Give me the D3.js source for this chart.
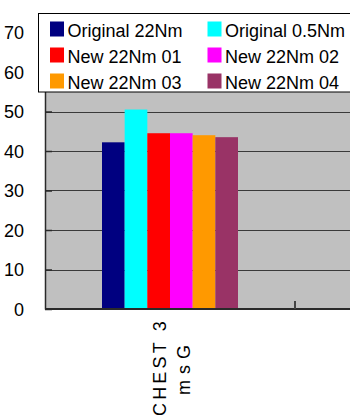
<!DOCTYPE html>
<html>
<head>
<meta charset="utf-8">
<script src="https://cdn.jsdelivr.net/npm/d3@7"></script>
<style>
  html, body { margin: 0; padding: 0; background: #fff; }
  svg { display: block; font-family: "Liberation Sans", Arial, sans-serif; }
</style>
</head>
<body>
<svg id="chart" width="350" height="418"></svg>
<script>
// Category shown on the x axis (two-line label)
const categories = ["CHEST 3|msG"];
// Series names and their values for the category
const seriesNames = ["Original 22Nm", "Original 0.5Nm", "New 22Nm 01", "New 22Nm 02", "New 22Nm 03", "New 22Nm 04"];
const seriesValues = [42.2, 50.5, 44.5, 44.5, 44.0, 43.5];
const seriesColors = ["#000080", "#00ffff", "#ff0000", "#ff00ff", "#ff9900", "#993366"];
// Y axis ticks
const yTicks = [0, 10, 20, 30, 40, 50, 60, 70];

const svg = d3.select("#chart");
const W = 350;

const plot = { left: 45, top: 32.5, bottom: 309, right: 600 };

const y = d3.scaleLinear().domain([0, 70]).range([plot.bottom, plot.top]);
const x = d3.scaleBand().domain(categories).range([plot.left, 295]).paddingInner(0).paddingOuter(0);
const xs = d3.scaleBand().domain(seriesNames)
  .range([x.bandwidth() * 0.228, x.bandwidth() * 0.772]).padding(0);

// Plot background
svg.append("rect")
  .attr("x", plot.left).attr("y", plot.top)
  .attr("width", plot.right - plot.left).attr("height", plot.bottom - plot.top)
  .attr("fill", "#c0c0c0");

// Horizontal gridlines
svg.append("g").selectAll("line").data(yTicks.filter(t => t > 0)).join("line")
  .attr("x1", plot.left).attr("x2", W)
  .attr("y1", d => Math.round(y(d)) + 0.5).attr("y2", d => Math.round(y(d)) + 0.5)
  .attr("stroke", "#3a3a3a").attr("stroke-width", 1);

// Bars
const g = svg.append("g");
categories.forEach(cat => {
  g.selectAll(null).data(seriesNames).join("rect")
    .attr("x", (d) => x(cat) + xs(d))
    .attr("width", xs.bandwidth())
    .attr("y", (d, i) => y(seriesValues[i]))
    .attr("height", (d, i) => y(0) - y(seriesValues[i]))
    .attr("fill", (d, i) => seriesColors[i]);
});

// Y axis with inward ticks
const yAxis = d3.axisLeft(y).tickValues(yTicks).tickSizeInner(-7).tickSizeOuter(0).tickPadding(21);
const ya = svg.append("g").attr("transform", `translate(${plot.left},0)`).call(yAxis);
ya.select(".domain").attr("stroke", "#2a2a2a").attr("stroke-width", 1.5);
ya.selectAll(".tick line").attr("stroke", "#2a2a2a").attr("stroke-width", 1.5);
ya.selectAll(".tick text")
  .attr("font-size", 18).attr("fill", "#000")
  .attr("font-family", "'Liberation Sans', Arial, sans-serif")
  .attr("dy", "0.36em");

// X axis line and tick between categories
svg.append("line")
  .attr("x1", plot.left).attr("x2", W)
  .attr("y1", plot.bottom).attr("y2", plot.bottom)
  .attr("stroke", "#2a2a2a").attr("stroke-width", 2);
svg.append("line")
  .attr("x1", x.range()[1]).attr("x2", x.range()[1])
  .attr("y1", plot.bottom).attr("y2", plot.bottom - 8)
  .attr("stroke", "#444").attr("stroke-width", 2);

// Category labels, rotated to read bottom-to-top
categories.forEach(cat => {
  const lines = cat.split("|");
  const cx = x(cat) + x.bandwidth() / 2;
  const lab = svg.append("text")
    .attr("transform", `translate(${cx},367) rotate(-90)`)
    .attr("text-anchor", "middle")
    .attr("font-size", 18).attr("fill", "#000");
  lab.append("tspan").attr("x", 0).attr("y", -4).attr("letter-spacing", 3.2).text(lines[0]);
  lab.append("tspan").attr("x", 0).attr("y", 20).attr("letter-spacing", 6).text(lines[1]);
});

// Legend
const legend = svg.append("g");
legend.append("rect")
  .attr("x", 38.5).attr("y", 13.5).attr("width", 330).attr("height", 78.5)
  .attr("fill", "#fff").attr("stroke", "#000").attr("stroke-width", 1);
const colX = [50, 207.5];
const rowBase = [37, 63, 89];
seriesNames.forEach((name, i) => {
  const cx = colX[i % 2];
  const by = rowBase[Math.floor(i / 2)];
  legend.append("rect")
    .attr("x", cx).attr("y", by - 15.5).attr("width", 14).attr("height", 15)
    .attr("fill", seriesColors[i]);
  legend.append("text")
    .attr("x", cx + 17.5).attr("y", by)
    .attr("font-size", 18).attr("fill", "#000")
    .text(name);
});
</script>
</body>
</html>
